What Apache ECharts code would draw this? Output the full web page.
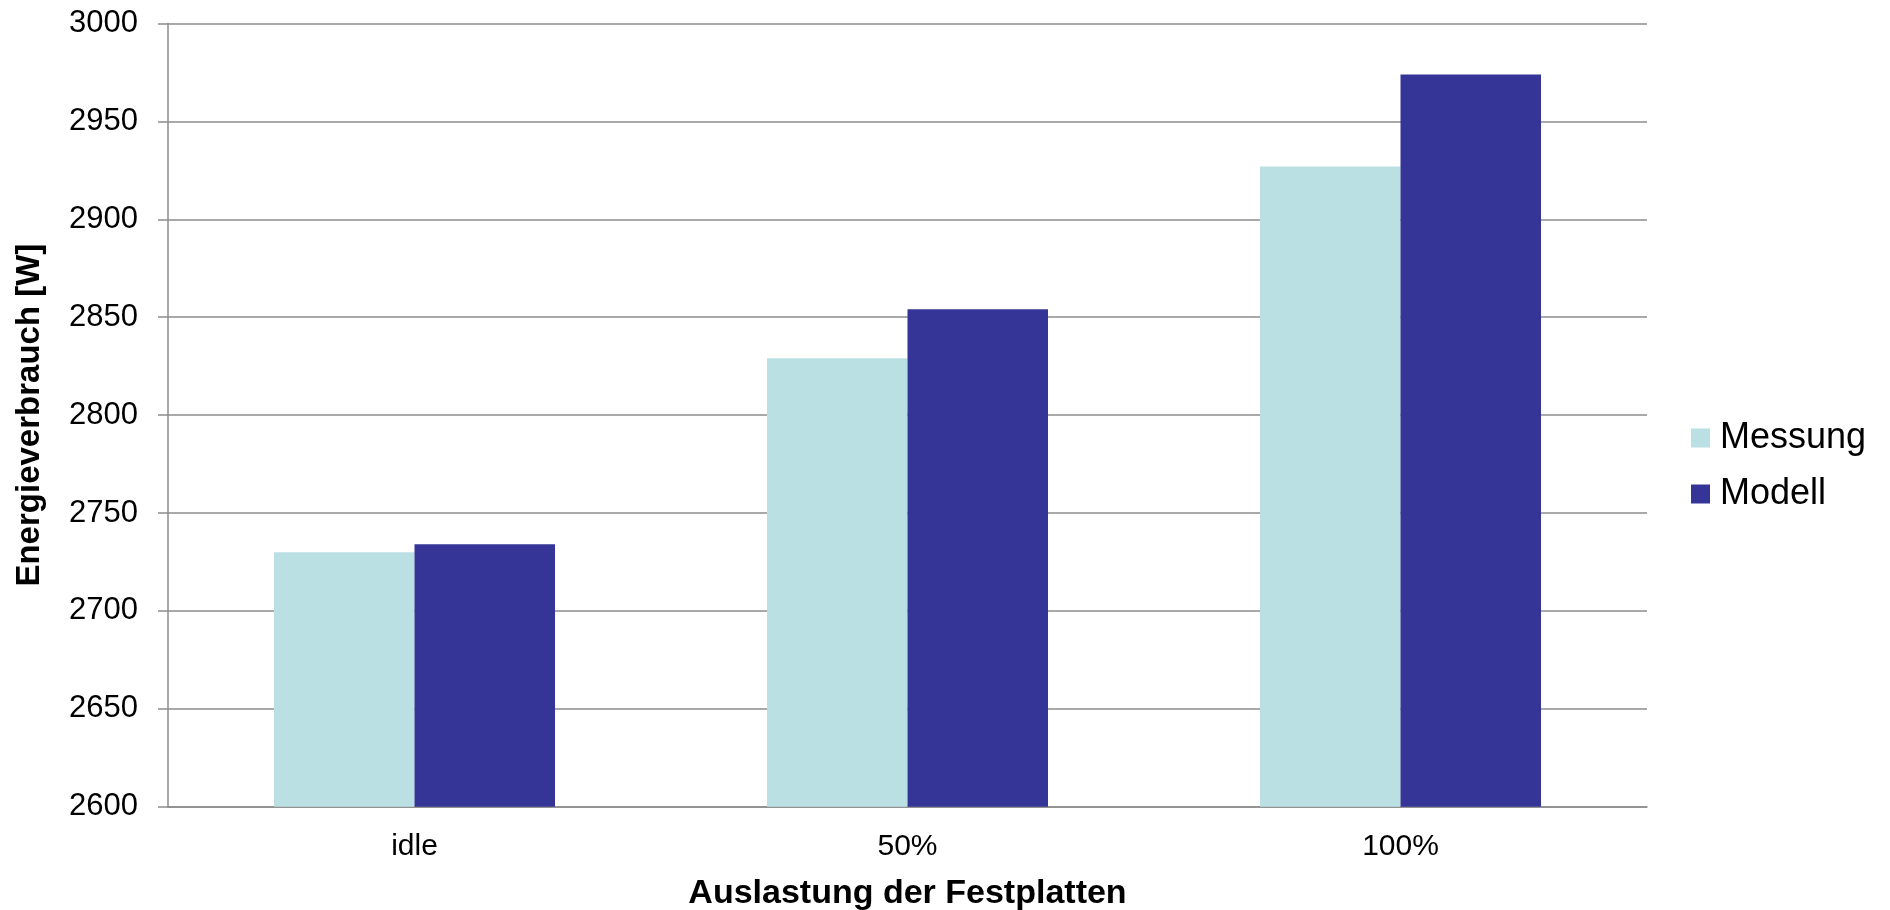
<!DOCTYPE html>
<html>
<head>
<meta charset="utf-8">
<script src="https://cdn.jsdelivr.net/npm/echarts@6/dist/echarts.min.js"></script>
<style>
  html, body { margin: 0; padding: 0; background: #ffffff; }
  #chart { width: 1890px; height: 910px; }
</style>
</head>
<body>
<div id="chart"></div>
<script>
// Auslastung der Festplatten vs. Energieverbrauch
const categories = ['idle', '50%', '100%'];
const messung = [2730, 2829, 2927];
const modell = [2734, 2854, 2974];
const seriesNames = ['Messung', 'Modell'];

const FONT = 'Liberation Sans, Arial, sans-serif';
const GRID_GRAY = '#8c8c8c';

const chart = echarts.init(document.getElementById('chart'), null, { renderer: 'canvas' });

chart.setOption({
  animation: false,
  backgroundColor: '#ffffff',
  textStyle: { fontFamily: FONT },
  grid: {
    left: 168, right: 243, top: 23.5, bottom: 103.3,
    containLabel: false,
    outerBoundsMode: 'none'
  },
  legend: {
    orient: 'vertical',
    left: 1691,
    top: 418,
    padding: 0,
    itemWidth: 19,
    itemHeight: 19,
    itemGap: 16,
    icon: 'rect',
    data: seriesNames,
    textStyle: { fontFamily: FONT, fontSize: 36, color: '#000', lineHeight: 40, padding: [0, 0, 0, 5] }
  },
  xAxis: {
    type: 'category',
    data: categories,
    name: 'Auslastung der Festplatten',
    nameLocation: 'middle',
    nameGap: 70,
    nameTextStyle: { fontFamily: FONT, fontSize: 34, fontWeight: 'bold', color: '#000' },
    axisLine: { show: true, lineStyle: { color: GRID_GRAY, width: 1.5 } },
    axisTick: { show: false },
    axisLabel: { fontFamily: FONT, fontSize: 30, color: '#000', margin: 25 },
    splitLine: { show: false }
  },
  yAxis: {
    type: 'value',
    min: 2600,
    max: 3000,
    interval: 50,
    name: 'Energieverbrauch [W]',
    nameLocation: 'middle',
    nameGap: 122,
    nameRotate: 90,
    nameTextStyle: { fontFamily: FONT, fontSize: 33, fontWeight: 'bold', color: '#000' },
    axisLine: { show: true, lineStyle: { color: GRID_GRAY, width: 1.5 } },
    axisTick: { show: true, inside: false, length: 10, lineStyle: { color: GRID_GRAY, width: 1.5 } },
    axisLabel: {
      fontFamily: FONT, fontSize: 31, color: '#000', margin: 30,
      formatter: (v) => String(v)
    },
    splitLine: { show: true, lineStyle: { color: GRID_GRAY, width: 1.5 } }
  },
  series: [
    {
      name: seriesNames[0],
      type: 'bar',
      data: messung,
      barGap: '0%',
      barCategoryGap: '43%',
      itemStyle: { color: '#bbe0e3' }
    },
    {
      name: seriesNames[1],
      type: 'bar',
      data: modell,
      barGap: '0%',
      barCategoryGap: '43%',
      itemStyle: { color: '#353598' }
    }
  ]
});
</script>
</body>
</html>
